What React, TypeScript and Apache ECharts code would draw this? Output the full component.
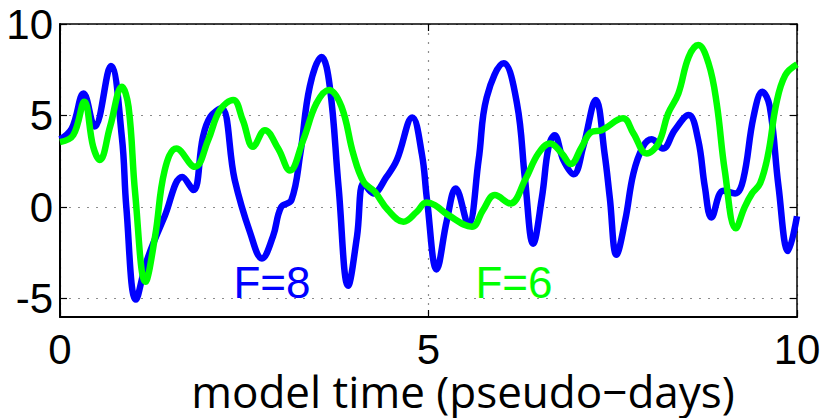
import React, { useEffect, useRef } from "react";
import * as echarts from "echarts";

const xTicks = [0, 5, 10];
const yTicks = [-5, 0, 5, 10];

const seriesF8: [number, number][] = [
  [0.0, 3.7], [0.16, 4.3], [0.32, 6.2], [0.47, 4.4], [0.69, 7.7], [0.84, 3.8], [0.9, 0],
  [1.03, -5.05], [1.18, -2.9], [1.42, -0.5], [1.66, 1.65], [1.81, 0.93], [1.94, 3.84],
  [2.04, 4.93], [2.19, 5.4], [2.37, 1.5], [2.58, -1.4], [2.74, -2.8], [2.89, -1.6], [3.0, 0],
  [3.14, 0.38], [3.26, 2.9], [3.39, 6.6], [3.55, 8.2], [3.66, 6.6], [3.78, 1.1], [3.91, -4.3],
  [4.03, -1.6], [4.12, 1.3], [4.25, 0.75], [4.43, 1.65], [4.57, 2.57], [4.78, 4.9], [4.91, 2.9],
  [4.98, 0.4], [5.11, -3.4], [5.25, -0.7], [5.37, 1.02], [5.54, -0.95], [5.68, 2.57], [5.79, 6.0],
  [6.02, 7.85], [6.2, 5.67], [6.31, 1.5], [6.42, -2.0], [6.54, 0.56], [6.63, 3.3], [6.71, 3.93],
  [6.83, 2.57], [6.97, 1.8], [7.1, 3.3], [7.27, 5.85], [7.39, 2.9], [7.46, 0.5], [7.55, -2.6],
  [7.67, -0.7], [7.78, 1.84], [7.91, 3.3], [8.03, 3.7], [8.18, 3.2], [8.34, 4.2], [8.53, 5.03],
  [8.66, 3.66], [8.75, 1.1], [8.84, -0.56], [9.0, 0.9], [9.16, 0.75], [9.27, 1.5], [9.41, 4.93],
  [9.53, 6.3], [9.63, 5.5], [9.75, 1.1], [9.88, -2.4], [10.0, -0.5],
];

const seriesF6: [number, number][] = [
  [0.0, 3.55], [0.18, 3.93], [0.33, 5.75], [0.45, 3.3], [0.54, 2.57], [0.68, 4.4], [0.84, 6.57],
  [0.93, 5.48], [1.02, 0.75], [1.16, -4.08], [1.29, -1.6], [1.42, 2.0], [1.58, 3.2], [1.83, 2.2],
  [2.01, 3.66], [2.17, 5.3], [2.35, 5.85], [2.48, 4.75], [2.62, 3.3], [2.78, 4.2], [2.96, 3.2],
  [3.12, 2.0], [3.3, 3.66], [3.48, 5.67], [3.65, 6.4], [3.82, 5.48], [3.98, 2.9], [4.12, 1.38],
  [4.27, 0.84], [4.45, -0.16], [4.66, -0.8], [4.84, -0.26], [4.97, 0.25], [5.09, 0.1],
  [5.27, -0.44], [5.59, -1.07], [5.74, -0.16], [5.9, 0.66], [6.11, 0.2], [6.31, 1.48],
  [6.49, 2.93], [6.65, 3.48], [6.81, 2.93], [6.93, 2.35], [7.08, 3.3], [7.21, 4.1], [7.35, 4.2],
  [7.64, 4.85], [7.78, 4.03], [7.96, 2.93], [8.12, 3.48], [8.25, 5.1], [8.39, 6.2], [8.53, 8.2],
  [8.66, 8.85], [8.8, 7.85], [8.91, 5.67], [9.02, 2.0], [9.17, -1.16], [9.29, 0], [9.39, 0.75],
  [9.5, 1.3], [9.61, 2.93], [9.72, 5.67], [9.84, 7.2], [10.0, 7.8],
];

const xTitle = "model time (pseudo\u2212days)";
const labelF8 = "F=8";
const labelF6 = "F=6";

export default function App() {
  const ref = useRef<HTMLDivElement>(null);
  useEffect(() => {
    document.body.style.margin = "0";
    if (!ref.current) return;
    const chart = echarts.init(ref.current, null, { renderer: "svg" });
    const tickFont = { fontFamily: "Liberation Sans", fontSize: 42, color: "#000" };
    const dotted = { type: [2, 7] as any, color: "#8c8c8c", width: 1.2 };
    const frame = { color: "#000", width: 2 };
    chart.setOption({
      animation: false,
      backgroundColor: "#fff",
      grid: { left: 60, right: 29, top: 24, bottom: 101, containLabel: false },
      xAxis: [
        {
          type: "value", min: 0, max: 10, interval: 5, position: "bottom",
          axisLine: { show: true, onZero: false, lineStyle: frame },
          axisTick: { show: true, inside: true, length: 7, lineStyle: { color: "#000", width: 1.2 }, customValues: xTicks },
          axisLabel: { ...tickFont, margin: 11, customValues: xTicks },
          splitLine: { show: true, lineStyle: dotted },
        },
        {
          type: "value", min: 0, max: 10, interval: 5, position: "top",
          axisLine: { show: true, onZero: false, lineStyle: { color: "#000", width: 1.5 } },
          axisTick: { show: true, inside: true, length: 7, lineStyle: { color: "#000", width: 1.2 } },
          axisLabel: { show: false },
          splitLine: { show: false },
        },
      ],
      yAxis: [
        {
          type: "value", min: -6, max: 10, position: "left",
          axisLine: { show: true, onZero: false, lineStyle: frame },
          axisTick: { show: true, inside: true, length: 7, lineStyle: { color: "#000", width: 1.2 }, customValues: yTicks },
          axisLabel: { ...tickFont, margin: 7, customValues: yTicks },
          splitLine: { show: true, lineStyle: dotted },
        },
        {
          type: "value", min: -6, max: 10, position: "right",
          axisLine: { show: true, onZero: false, lineStyle: { color: "#000", width: 1.5 } },
          axisTick: { show: true, inside: true, length: 7, lineStyle: { color: "#000", width: 1.2 }, customValues: yTicks },
          axisLabel: { show: false },
          splitLine: { show: false },
        },
      ],
      series: [
        {
          type: "line", name: labelF8, data: seriesF8, smooth: 0.4, showSymbol: false,
          xAxisIndex: 0, yAxisIndex: 0, clip: false,
          lineStyle: { color: "#0000ff", width: 6.5 },
        },
        {
          type: "line", name: labelF6, data: seriesF6, smooth: 0.4, showSymbol: false,
          xAxisIndex: 0, yAxisIndex: 0, clip: false,
          lineStyle: { color: "#00ff00", width: 6.5 },
        },
      ],
      graphic: [
        {
          type: "text", x: 463, y: 391,
          style: { text: xTitle, fill: "#000", font: "44px 'Open Sans'", textAlign: "center", textVerticalAlign: "middle" },
        },
        {
          type: "text", x: 272, y: 282,
          style: { text: labelF8, fill: "#0000ff", font: "44px 'Liberation Sans'", textAlign: "center", textVerticalAlign: "middle" },
        },
        {
          type: "text", x: 514, y: 282,
          style: { text: labelF6, fill: "#00ff00", font: "44px 'Liberation Sans'", textAlign: "center", textVerticalAlign: "middle" },
        },
      ],
    });
    return () => chart.dispose();
  }, []);
  return <div ref={ref} style={{ position: "absolute", left: 0, top: 0, width: 826, height: 418 }} />;
}
